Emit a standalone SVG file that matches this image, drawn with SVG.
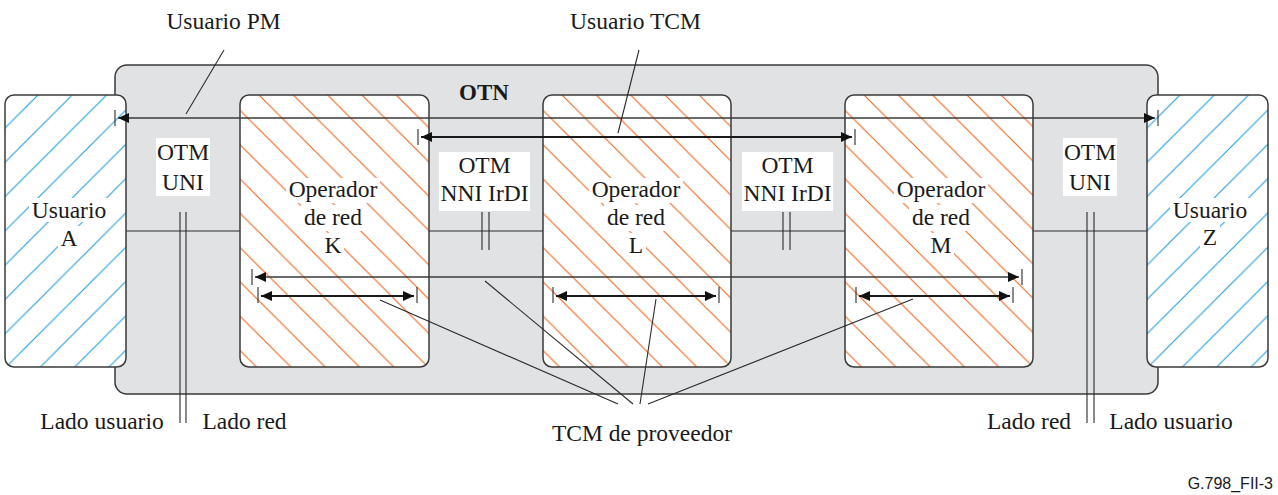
<svg xmlns="http://www.w3.org/2000/svg" width="1278" height="495" viewBox="0 0 1278 495">
<style>
text{font-family:"Liberation Serif","Times New Roman",serif;font-size:23.5px;fill:#1a1a1a;text-anchor:middle}
.otn{fill:#E1E2E4;stroke:#3a3a3a;stroke-width:1.5}
.box{stroke:#3a3a3a;stroke-width:1.5}
.ln{stroke:#3a3a3a;stroke-width:1.3;fill:none}
.thin{stroke:#2a2a2a;stroke-width:1.1;fill:none}
.arr{stroke:#1a1a1a;stroke-width:2;fill:none}
.lbl,.ko{fill:#fff}
</style>
<defs>
<pattern id="pK" patternUnits="userSpaceOnUse" width="34.3" height="34.3" x="26.8"><path d="M-5,-5L39.3,39.3M-5,29.3L5,39.3M29.3,-5L39.3,5" stroke="#EC6420" stroke-width="1.1"/></pattern>
<pattern id="pL" patternUnits="userSpaceOnUse" width="34.3" height="34.3" x="21.1"><path d="M-5,-5L39.3,39.3M-5,29.3L5,39.3M29.3,-5L39.3,5" stroke="#EC6420" stroke-width="1.1"/></pattern>
<pattern id="pM" patternUnits="userSpaceOnUse" width="34.3" height="34.3" x="14.4"><path d="M-5,-5L39.3,39.3M-5,29.3L5,39.3M29.3,-5L39.3,5" stroke="#EC6420" stroke-width="1.1"/></pattern>
<pattern id="pA" patternUnits="userSpaceOnUse" width="34.3" height="34.3" x="30.1"><path d="M-5,39.3L39.3,-5M-5,5L5,-5M29.3,39.3L39.3,29.3" stroke="#229CDE" stroke-width="1.1"/></pattern>
<pattern id="pZ" patternUnits="userSpaceOnUse" width="34.3" height="34.3" x="5.9"><path d="M-5,39.3L39.3,-5M-5,5L5,-5M29.3,39.3L39.3,29.3" stroke="#229CDE" stroke-width="1.1"/></pattern>
<marker id="ah" markerUnits="userSpaceOnUse" markerWidth="12" markerHeight="12" viewBox="0 0 12 12" refX="11" refY="6" orient="auto-start-reverse"><path d="M0,1L11,6L0,11Z" fill="#111"/></marker>
</defs>

<g id="otn">
<rect class="otn" x="115" y="65" width="1043" height="329" rx="12"/>
<text x="484" y="100" style="font-weight:bold;font-size:23px">OTN</text>
</g>

<g id="connectors-back">
<line class="thin" x1="126" y1="231" x2="1147" y2="231"/>
</g>

<g id="usuarioA">
<rect x="5" y="95" width="121" height="272" rx="9" fill="#fff"/>
<rect x="5" y="95" width="121" height="272" rx="9" fill="url(#pA)" class="box"/>
<rect class="ko" x="29" y="198" width="80" height="24"/>
<rect class="ko" x="58" y="226" width="22" height="26"/>
<text x="69" y="218">Usuario</text>
<text x="69" y="246">A</text>
</g>

<g id="operadorK">
<rect x="240" y="95" width="189" height="272" rx="9" fill="#fff"/>
<rect x="240" y="95" width="189" height="272" rx="9" fill="url(#pK)" class="box"/>
<rect class="ko" x="286" y="178" width="94" height="25"/>
<rect class="ko" x="301" y="205" width="64" height="26"/>
<rect class="ko" x="322" y="233" width="22" height="25"/>
<text x="333" y="197">Operador</text>
<text x="333" y="225">de red</text>
<text x="333" y="253">K</text>
</g>

<g id="operadorL">
<rect x="543" y="95" width="188" height="272" rx="9" fill="#fff"/>
<rect x="543" y="95" width="188" height="272" rx="9" fill="url(#pL)" class="box"/>
<rect class="ko" x="589" y="178" width="94" height="25"/>
<rect class="ko" x="604" y="205" width="64" height="26"/>
<rect class="ko" x="626" y="233" width="20" height="25"/>
<text x="636" y="197">Operador</text>
<text x="636" y="225">de red</text>
<text x="636" y="253">L</text>
</g>

<g id="operadorM">
<rect x="845" y="95" width="188" height="272" rx="9" fill="#fff"/>
<rect x="845" y="95" width="188" height="272" rx="9" fill="url(#pM)" class="box"/>
<rect class="ko" x="894" y="178" width="94" height="25"/>
<rect class="ko" x="909" y="205" width="64" height="26"/>
<rect class="ko" x="928" y="233" width="26" height="25"/>
<text x="941" y="197">Operador</text>
<text x="941" y="225">de red</text>
<text x="941" y="253">M</text>
</g>

<g id="usuarioZ">
<rect x="1147" y="95" width="121" height="272" rx="9" fill="#fff"/>
<rect x="1147" y="95" width="121" height="272" rx="9" fill="url(#pZ)" class="box"/>
<rect class="ko" x="1170" y="198" width="80" height="24"/>
<rect class="ko" x="1200" y="225" width="20" height="26"/>
<text x="1210" y="218">Usuario</text>
<text x="1210" y="245">Z</text>
</g>

<g id="uniLeft">
<rect class="lbl" x="156" y="138" width="54" height="58"/>
<text x="183" y="160">OTM</text>
<text x="183" y="190">UNI</text>
</g>
<g id="nniLeft">
<rect class="lbl" x="439" y="152" width="91" height="59"/>
<text x="484.5" y="173">OTM</text>
<text x="484.5" y="201">NNI IrDI</text>
</g>
<g id="nniRight">
<rect class="lbl" x="742" y="152" width="91" height="59"/>
<text x="787.5" y="173">OTM</text>
<text x="787.5" y="201">NNI IrDI</text>
</g>
<g id="uniRight">
<rect class="lbl" x="1063" y="138" width="54" height="58"/>
<text x="1090" y="160">OTM</text>
<text x="1090" y="190">UNI</text>
</g>

<g id="connectors">
<path class="thin" d="M180,212V423M186,212V423"/>
<path class="thin" d="M482,212V250M489,212V250"/>
<path class="thin" d="M783,212V250M790,212V250"/>
<path class="thin" d="M1087,212V423M1094,212V423"/>
<line class="ln" x1="118" y1="118" x2="1155" y2="118" marker-start="url(#ah)" marker-end="url(#ah)"/>
<path class="thin" d="M115,110V126M1158,110V126"/>
<line class="arr" x1="421" y1="137" x2="852" y2="137" marker-start="url(#ah)" marker-end="url(#ah)"/>
<path class="thin" d="M418,129V145M855,129V145"/>
<line class="ln" x1="255" y1="277" x2="1019" y2="277" marker-start="url(#ah)" marker-end="url(#ah)"/>
<path class="thin" d="M252,269V285M1022,269V285"/>
<line class="arr" x1="261" y1="296" x2="414" y2="296" marker-start="url(#ah)" marker-end="url(#ah)"/>
<path class="thin" d="M258,287V303M417,287V303"/>
<line class="arr" x1="556" y1="296" x2="716" y2="296" marker-start="url(#ah)" marker-end="url(#ah)"/>
<path class="thin" d="M553,287V303M719,287V303"/>
<line class="arr" x1="859" y1="296" x2="1010" y2="296" marker-start="url(#ah)" marker-end="url(#ah)"/>
<path class="thin" d="M856,287V303M1013,287V303"/>
<line class="thin" x1="224" y1="50" x2="186" y2="114"/>
<line class="thin" x1="639" y1="50" x2="618" y2="133"/>
<line class="thin" x1="380" y1="300" x2="618" y2="404"/>
<line class="thin" x1="485" y1="281" x2="633" y2="404"/>
<line class="thin" x1="656" y1="299" x2="640" y2="404"/>
<line class="thin" x1="913" y1="299" x2="648" y2="404"/>
</g>

<g id="labels">
<text x="223.5" y="29">Usuario PM</text>
<text x="635.5" y="29">Usuario TCM</text>
<text x="642" y="441">TCM de proveedor</text>
<text x="102" y="429">Lado usuario</text>
<text x="244.5" y="429">Lado red</text>
<text x="1029" y="429">Lado red</text>
<text x="1171" y="429">Lado usuario</text>
<text x="1273" y="489" style="font-family:'Liberation Sans',Arial,sans-serif;font-size:16px;text-anchor:end">G.798_FII-3</text>
</g>
</svg>
